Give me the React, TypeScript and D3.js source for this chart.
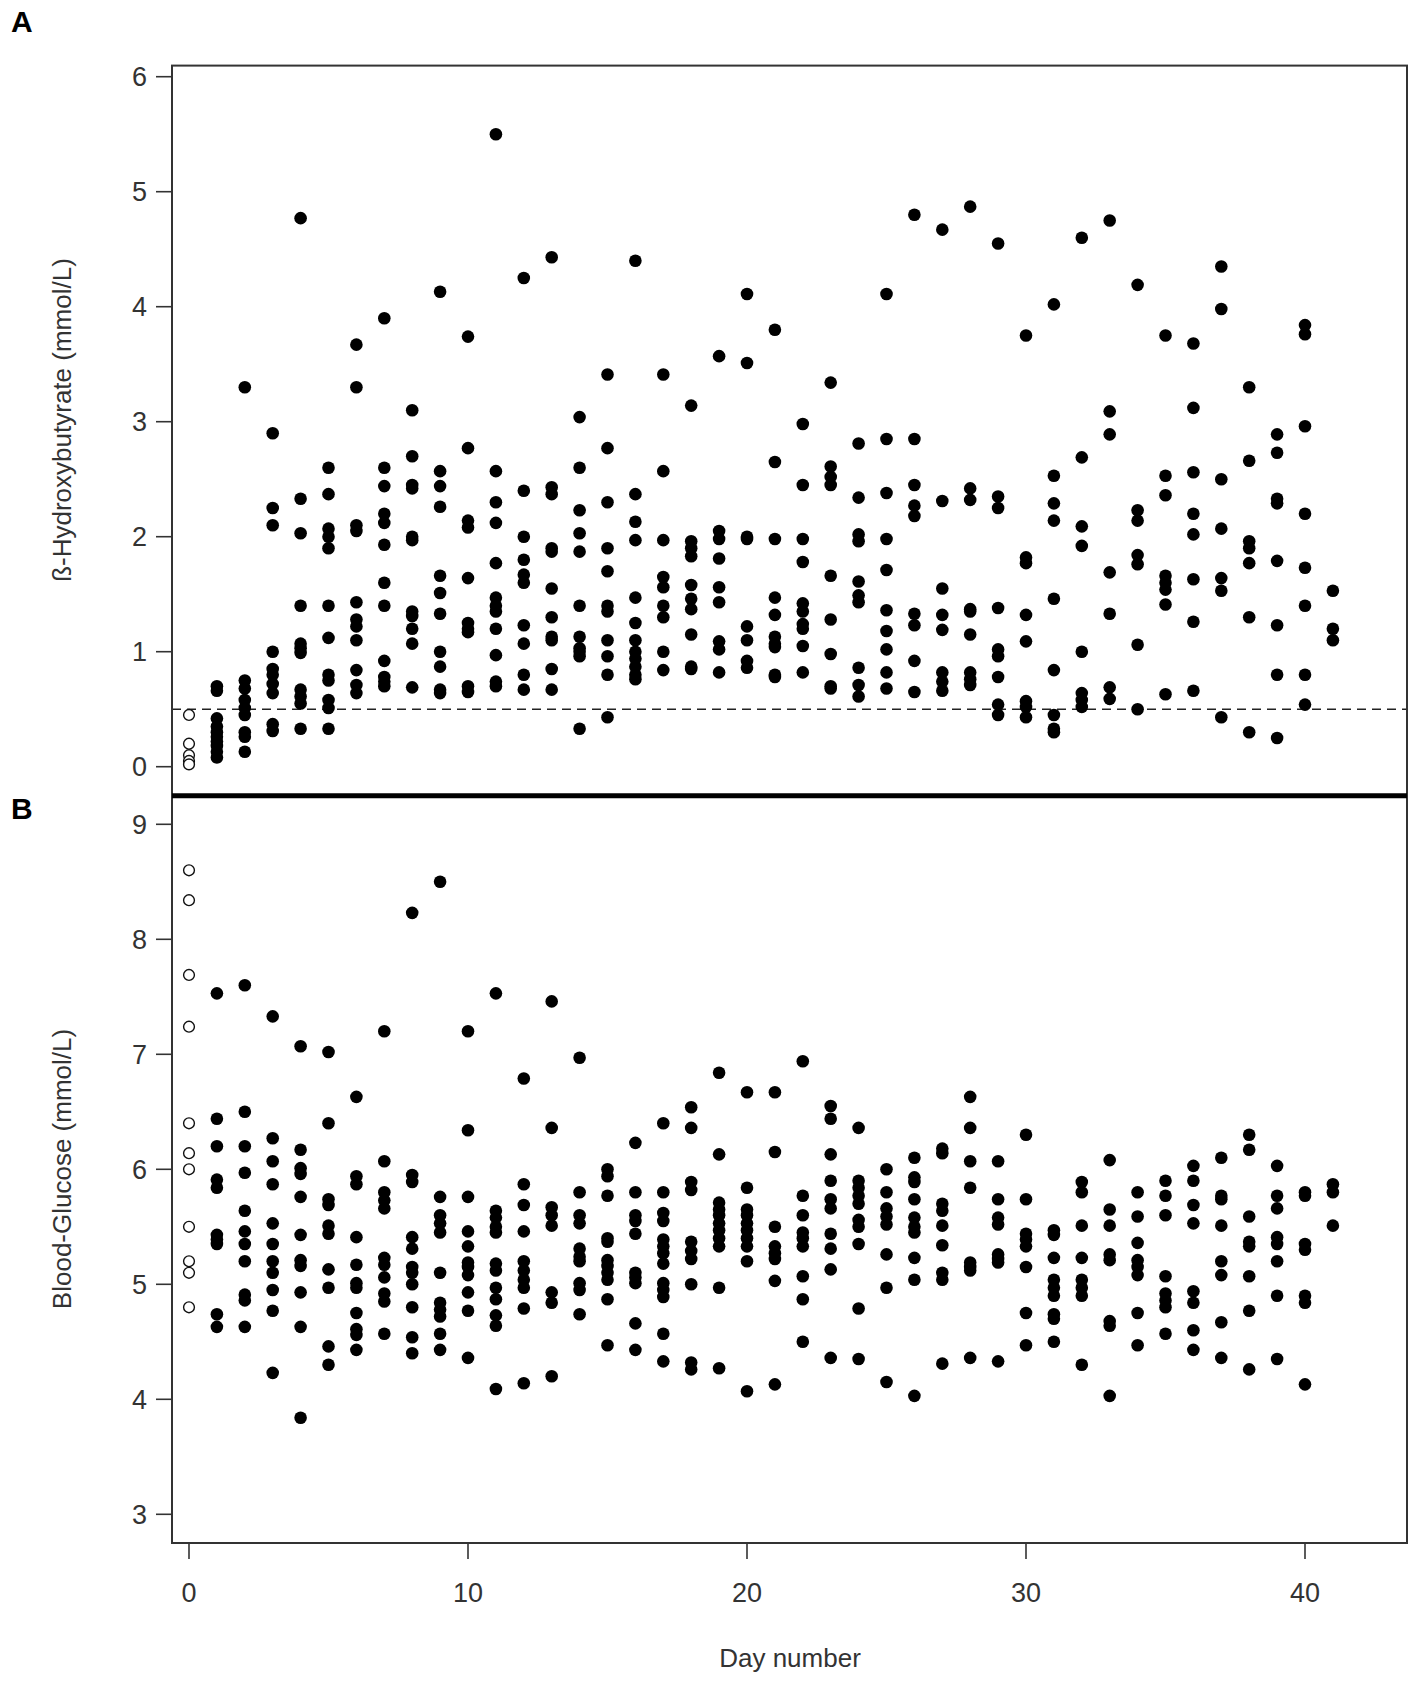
import * as d3 from "d3";

// day numbers 0..41
const days = d3.range(0, 42);

// panel A: ß-hydroxybutyrate (mmol/L), one list per day (day 0 = baseline, open circles)
const betaHydroxybutyrate: number[][] = [
  [0.45, 0.2, 0.1, 0.05, 0.02],
  [0.7, 0.66, 0.42, 0.35, 0.3, 0.26, 0.22, 0.18, 0.13, 0.08],
  [3.3, 0.75, 0.68, 0.58, 0.51, 0.45, 0.3, 0.26, 0.13],
  [2.9, 2.25, 2.1, 1.0, 0.85, 0.8, 0.72, 0.64, 0.37, 0.31],
  [4.77, 2.33, 2.03, 1.4, 1.07, 1.03, 0.99, 0.67, 0.61, 0.55, 0.33],
  [2.6, 2.37, 2.07, 2.0, 1.9, 1.4, 1.12, 0.8, 0.75, 0.58, 0.51, 0.33],
  [3.67, 3.3, 2.1, 2.05, 1.43, 1.28, 1.22, 1.1, 0.84, 0.71, 0.64],
  [3.9, 2.6, 2.44, 2.2, 2.12, 1.93, 1.6, 1.4, 0.92, 0.78, 0.74, 0.7],
  [3.1, 2.7, 2.45, 2.42, 2.0, 1.97, 1.35, 1.31, 1.2, 1.07, 0.69],
  [4.13, 2.57, 2.44, 2.26, 1.66, 1.51, 1.33, 1.0, 0.87, 0.67, 0.64],
  [3.74, 2.77, 2.14, 2.08, 1.64, 1.25, 1.2, 1.17, 0.7, 0.65],
  [5.5, 2.57, 2.3, 2.12, 1.77, 1.47, 1.4, 1.35, 1.2, 0.97, 0.74, 0.7],
  [4.25, 2.4, 2.0, 1.8, 1.67, 1.6, 1.23, 1.07, 0.8, 0.67],
  [4.43, 2.43, 2.37, 1.9, 1.87, 1.55, 1.3, 1.13, 1.1, 0.85, 0.67],
  [3.04, 2.6, 2.23, 2.03, 1.87, 1.4, 1.13, 1.03, 1.0, 0.96, 0.33],
  [3.41, 2.77, 2.3, 1.9, 1.7, 1.4, 1.35, 1.1, 0.96, 0.8, 0.43],
  [4.4, 2.37, 2.13, 1.97, 1.47, 1.25, 1.1, 1.0, 0.94, 0.87, 0.8, 0.76],
  [3.41, 2.57, 1.97, 1.65, 1.56, 1.4, 1.3, 1.0, 0.84],
  [3.14, 1.96, 1.9, 1.83, 1.58, 1.46, 1.37, 1.15, 0.87, 0.85],
  [3.57, 2.05, 1.98, 1.81, 1.56, 1.43, 1.09, 1.02, 0.82],
  [4.11, 3.51, 2.0, 1.98, 1.22, 1.1, 0.92, 0.86],
  [3.8, 2.65, 1.98, 1.47, 1.32, 1.13, 1.07, 1.04, 0.8, 0.78],
  [2.98, 2.45, 1.98, 1.78, 1.42, 1.35, 1.24, 1.2, 1.05, 0.82],
  [3.34, 2.61, 2.52, 2.45, 1.66, 1.28, 0.98, 0.7, 0.68],
  [2.81, 2.34, 2.02, 1.96, 1.61, 1.49, 1.43, 0.86, 0.71, 0.61],
  [4.11, 2.85, 2.38, 1.98, 1.71, 1.36, 1.18, 1.02, 0.82, 0.68],
  [4.8, 2.85, 2.45, 2.27, 2.18, 1.33, 1.23, 0.92, 0.65],
  [4.67, 2.31, 1.55, 1.32, 1.19, 0.82, 0.74, 0.66],
  [4.87, 2.42, 2.32, 1.37, 1.35, 1.15, 0.82, 0.76, 0.71],
  [4.55, 2.35, 2.25, 1.38, 1.02, 0.96, 0.78, 0.54, 0.45],
  [3.75, 1.82, 1.77, 1.32, 1.09, 0.57, 0.52, 0.43],
  [4.02, 2.53, 2.29, 2.14, 1.46, 0.84, 0.45, 0.33, 0.3],
  [4.6, 2.69, 2.09, 1.92, 1.0, 0.64, 0.58, 0.52],
  [4.75, 3.09, 2.89, 1.69, 1.33, 0.69, 0.59],
  [4.19, 2.23, 2.14, 1.84, 1.76, 1.06, 0.5],
  [3.75, 2.53, 2.36, 1.66, 1.6, 1.54, 1.41, 0.63],
  [3.68, 3.12, 2.56, 2.2, 2.02, 1.63, 1.26, 0.66],
  [4.35, 3.98, 2.5, 2.07, 1.64, 1.53, 0.43],
  [3.3, 2.66, 1.96, 1.9, 1.77, 1.3, 0.3],
  [2.89, 2.73, 2.33, 2.29, 1.79, 1.23, 0.8, 0.25],
  [3.84, 3.76, 2.96, 2.2, 1.73, 1.4, 0.8, 0.54],
  [1.53, 1.2, 1.1],
];

// panel B: blood glucose (mmol/L), one list per day
const bloodGlucose: number[][] = [
  [8.6, 8.34, 7.69, 7.24, 6.4, 6.14, 6.0, 5.5, 5.2, 5.1, 4.8],
  [7.53, 6.44, 6.2, 5.91, 5.84, 5.43, 5.39, 5.35, 4.74, 4.63],
  [7.6, 6.5, 6.2, 5.97, 5.64, 5.46, 5.35, 5.2, 4.91, 4.86, 4.63],
  [7.33, 6.27, 6.07, 5.87, 5.53, 5.35, 5.2, 5.1, 4.95, 4.77, 4.23],
  [7.07, 6.17, 6.01, 5.96, 5.76, 5.43, 5.21, 5.16, 4.93, 4.63, 3.84],
  [7.02, 6.4, 5.74, 5.69, 5.51, 5.44, 5.13, 4.97, 4.46, 4.3],
  [6.63, 5.94, 5.87, 5.41, 5.17, 5.01, 4.97, 4.75, 4.61, 4.56, 4.43],
  [7.2, 6.07, 5.8, 5.73, 5.66, 5.23, 5.17, 5.06, 4.92, 4.85, 4.57],
  [8.23, 5.95, 5.89, 5.41, 5.31, 5.15, 5.1, 5.0, 4.8, 4.54, 4.4],
  [8.5, 5.76, 5.6, 5.53, 5.45, 5.1, 4.84, 4.78, 4.72, 4.57, 4.43],
  [7.2, 6.34, 5.76, 5.46, 5.33, 5.19, 5.15, 5.08, 4.93, 4.77, 4.36],
  [7.53, 5.64, 5.58, 5.5, 5.45, 5.18, 5.12, 4.97, 4.87, 4.73, 4.64, 4.09],
  [6.79, 5.87, 5.69, 5.46, 5.2, 5.12, 5.04, 4.97, 4.79, 4.14],
  [7.46, 6.36, 5.67, 5.6, 5.51, 4.93, 4.84, 4.2],
  [6.97, 5.8, 5.6, 5.53, 5.31, 5.24, 5.2, 5.01, 4.95, 4.74],
  [6.0, 5.94, 5.77, 5.4, 5.37, 5.21, 5.16, 5.1, 5.04, 4.87, 4.47],
  [6.23, 5.8, 5.6, 5.55, 5.44, 5.1, 5.06, 5.01, 4.66, 4.43],
  [6.4, 5.8, 5.62, 5.55, 5.39, 5.33, 5.27, 5.18, 5.01, 4.95, 4.89, 4.57, 4.33],
  [6.54, 6.36, 5.89, 5.82, 5.37, 5.29, 5.22, 5.0, 4.32, 4.26],
  [6.84, 6.13, 5.71, 5.65, 5.6, 5.53, 5.47, 5.4, 5.33, 4.97, 4.27],
  [6.67, 5.84, 5.65, 5.6, 5.53, 5.47, 5.4, 5.33, 5.2, 4.07],
  [6.67, 6.15, 5.5, 5.33, 5.27, 5.22, 5.03, 4.13],
  [6.94, 5.77, 5.6, 5.45, 5.4, 5.33, 5.07, 4.87, 4.5],
  [6.55, 6.44, 6.13, 5.9, 5.74, 5.66, 5.44, 5.31, 5.13, 4.36],
  [6.36, 5.9, 5.84, 5.77, 5.7, 5.56, 5.5, 5.35, 4.79, 4.35],
  [6.0, 5.8, 5.66, 5.59, 5.52, 5.26, 4.97, 4.15],
  [6.1, 5.93, 5.89, 5.74, 5.58, 5.5, 5.45, 5.23, 5.04, 4.03],
  [6.18, 6.14, 5.7, 5.64, 5.51, 5.34, 5.1, 5.04, 4.31],
  [6.63, 6.36, 6.07, 5.84, 5.19, 5.15, 5.12, 4.36],
  [6.07, 5.74, 5.58, 5.52, 5.26, 5.22, 5.19, 4.33],
  [6.3, 5.74, 5.44, 5.39, 5.33, 5.15, 4.75, 4.47],
  [5.47, 5.43, 5.23, 5.04, 4.97, 4.9, 4.74, 4.7, 4.5],
  [5.89, 5.8, 5.51, 5.23, 5.04, 4.97, 4.9, 4.3],
  [6.08, 5.65, 5.51, 5.26, 5.21, 4.68, 4.64, 4.03],
  [5.8, 5.59, 5.36, 5.21, 5.15, 5.08, 4.75, 4.47],
  [5.9, 5.77, 5.6, 5.07, 4.92, 4.86, 4.8, 4.57],
  [6.03, 5.9, 5.69, 5.53, 4.94, 4.84, 4.6, 4.43],
  [6.1, 5.77, 5.74, 5.51, 5.2, 5.08, 4.67, 4.36],
  [6.3, 6.17, 5.59, 5.37, 5.33, 5.07, 4.77, 4.26],
  [6.03, 5.77, 5.66, 5.41, 5.35, 5.2, 4.9, 4.35],
  [5.8, 5.77, 5.35, 5.3, 4.9, 4.84, 4.13],
  [5.87, 5.8, 5.51],
];

const xTicks = [0, 10, 20, 30, 40];
const bhbTicks = [0, 1, 2, 3, 4, 5, 6];
const glucoseTicks = [3, 4, 5, 6, 7, 8, 9];
const ketosisThreshold = 0.5;

const W = 1418;
const H = 1685;
const box = { left: 172, right: 1407, top: 65.6, mid: 795.8, bottom: 1543 };
const ink = "#333";
const font = "'Liberation Sans', Arial, sans-serif";

type Pt = { day: number; value: number; baseline: boolean };

function flatten(series: number[][]): Pt[] {
  return days.flatMap((day) =>
    (series[day] ?? []).map((value) => ({ day, value, baseline: day === 0 }))
  );
}

function Panel({
  points,
  y,
  ticks,
  title,
  titleY,
}: {
  points: Pt[];
  y: d3.ScaleLinear<number, number>;
  ticks: number[];
  title: string;
  titleY: number;
}) {
  const x = d3.scaleLinear().domain([0, 40]).range([189, 1305]);
  return (
    <g>
      {ticks.map((t) => (
        <g key={t} transform={`translate(0,${y(t)})`}>
          <line x1={box.left - 16} x2={box.left} stroke={ink} strokeWidth={1.6} />
          <text
            x={box.left - 25}
            dy="0.35em"
            textAnchor="end"
            fontSize={27}
            fill={ink}
            fontFamily={font}
          >
            {t}
          </text>
        </g>
      ))}
      <text
        transform={`translate(71,${titleY}) rotate(-90)`}
        textAnchor="middle"
        fontSize={26}
        fill={ink}
        fontFamily={font}
      >
        {title}
      </text>
      {points.map((p, i) =>
        p.baseline ? (
          <circle
            key={i}
            cx={x(p.day)}
            cy={y(p.value)}
            r={5.4}
            fill="white"
            stroke="#111"
            strokeWidth={1.4}
          />
        ) : (
          <circle key={i} cx={x(p.day)} cy={y(p.value)} r={6.3} fill="#000" />
        )
      )}
    </g>
  );
}

export default function App() {
  const x = d3.scaleLinear().domain([0, 40]).range([189, 1305]);
  const yA = d3.scaleLinear().domain([0, 6]).range([766.7, 76.7]);
  const yB = d3.scaleLinear().domain([3, 9]).range([1514.3, 824.3]);
  const ptsA = flatten(betaHydroxybutyrate);
  const ptsB = flatten(bloodGlucose);

  return (
    <svg
      width={W}
      height={H}
      viewBox={`0 0 ${W} ${H}`}
      style={{ position: "absolute", left: 0, top: 0, background: "#fff" }}
    >
      <rect width={W} height={H} fill="#fff" />

      <line
        x1={box.left}
        x2={box.right}
        y1={yA(ketosisThreshold)}
        y2={yA(ketosisThreshold)}
        stroke="#222"
        strokeWidth={1.5}
        strokeDasharray="9,6"
      />

      <Panel
        points={ptsA}
        y={yA}
        ticks={bhbTicks}
        title="ß-Hydroxybutyrate (mmol/L)"
        titleY={420}
      />
      <Panel
        points={ptsB}
        y={yB}
        ticks={glucoseTicks}
        title="Blood-Glucose (mmol/L)"
        titleY={1169}
      />

      {/* frame */}
      <rect
        x={box.left}
        y={box.top}
        width={box.right - box.left}
        height={box.bottom - box.top}
        fill="none"
        stroke={ink}
        strokeWidth={2}
      />
      <line x1={box.left} x2={box.right} y1={box.mid} y2={box.mid} stroke="#000" strokeWidth={5} />

      {/* x axis */}
      {xTicks.map((t) => (
        <g key={t} transform={`translate(${x(t)},0)`}>
          <line y1={box.bottom} y2={box.bottom + 16} stroke={ink} strokeWidth={1.6} />
          <text y={1601.7} textAnchor="middle" fontSize={27} fill={ink} fontFamily={font}>
            {t}
          </text>
        </g>
      ))}
      <text x={790} y={1666.7} textAnchor="middle" fontSize={26} fill={ink} fontFamily={font}>
        Day number
      </text>

      <text x={11} y={32} fontSize={30} fontWeight="bold" fill="#000" fontFamily={font}>
        A
      </text>
      <text x={11} y={819} fontSize={30} fontWeight="bold" fill="#000" fontFamily={font}>
        B
      </text>
    </svg>
  );
}
